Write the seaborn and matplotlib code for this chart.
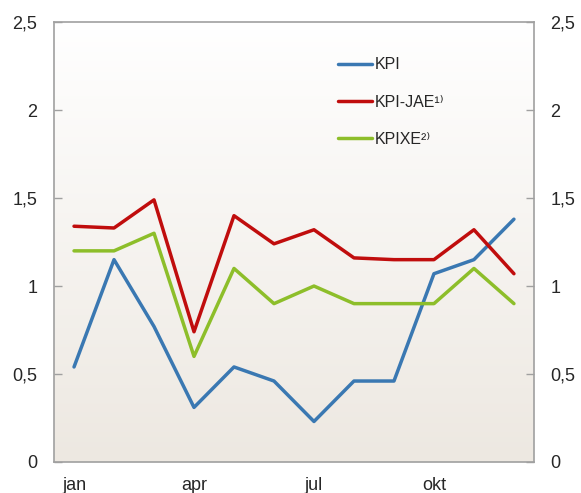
import matplotlib
matplotlib.use("Agg")
import matplotlib.pyplot as plt
from matplotlib.colors import LinearSegmentedColormap
import numpy as np
import pandas as pd
import seaborn as sns

months = ["jan", "feb", "mar", "apr", "mai", "jun",
          "jul", "aug", "sep", "okt", "nov", "des"]
kpi = [0.54, 1.15, 0.77, 0.31, 0.54, 0.46, 0.23, 0.46, 0.46, 1.07, 1.15, 1.38]
kpi_jae = [1.34, 1.33, 1.49, 0.74, 1.40, 1.24, 1.32, 1.16, 1.15, 1.15, 1.32, 1.07]
kpixe = [1.2, 1.2, 1.3, 0.6, 1.1, 0.9, 1.0, 0.9, 0.9, 0.9, 1.1, 0.9]
series_names = ["KPI", "KPI-JAE¹⁾", "KPIXE²⁾"]
colors = ["#3A78B2", "#C00D0D", "#8DBE2A"]
y_ticks = [0, 0.5, 1, 1.5, 2, 2.5]
y_ticklabels = ["0", "0,5", "1", "1,5", "2", "2,5"]
x_label_pos = [0, 3, 6, 9]
x_labels = ["jan", "apr", "jul", "okt"]

df = pd.DataFrame({
    "month": list(range(12)) * 3,
    "value": kpi + kpi_jae + kpixe,
    "series": [s for s in series_names for _ in range(12)],
})

sns.set_style("white")
plt.rcParams["font.family"] = ["Liberation Sans", "DejaVu Sans"]

fig = plt.figure(figsize=(5.81, 4.93), dpi=100)
ax = fig.add_axes([0.093, 0.063, 0.826, 0.892])

# background gradient, white at top to beige at bottom
cmap = LinearSegmentedColormap.from_list("bg", ["#EDE8E1", "#FFFFFF"])
ax.imshow(np.linspace(0, 1, 256)[::-1, None], extent=(-0.5, 11.5, 0, 2.5),
          aspect="auto", cmap=cmap, zorder=0)

sns.lineplot(data=df, x="month", y="value", hue="series",
             palette=colors, linewidth=2.5, ax=ax, zorder=3)

ax.set_xlim(-0.5, 11.5)
ax.set_ylim(0, 2.5)
ax.set_xlabel("")
ax.set_ylabel("")

# ticks between months, labels at month centres
ax.set_xticks([2.5, 5.5, 8.5])
ax.set_xticklabels([])
ax.set_xticks(x_label_pos, minor=True)
ax.set_xticklabels(x_labels, minor=True, fontsize=13)
ax.tick_params(axis="x", which="major", direction="in", length=6,
               color="#A0A0A0", width=1)
ax.tick_params(axis="x", which="minor", length=0, pad=11)

ax.set_yticks(y_ticks)
ax.set_yticklabels(y_ticklabels, fontsize=13)
ax.tick_params(axis="y", direction="in", length=6, color="#A0A0A0", width=1,
               pad=12, left=True, right=True, labelleft=True, labelright=True)

for sp in ax.spines.values():
    sp.set_color("#A0A0A0")
    sp.set_linewidth(1.2)

handles, labels = ax.get_legend_handles_labels()
ax.legend(handles, labels, loc="upper left", bbox_to_anchor=(0.592, 0.92),
          frameon=False, fontsize=11.5, handlelength=2.1, handletextpad=0.2,
          labelspacing=1.4, borderpad=0, borderaxespad=0)

fig.savefig("out.png", dpi=100)
